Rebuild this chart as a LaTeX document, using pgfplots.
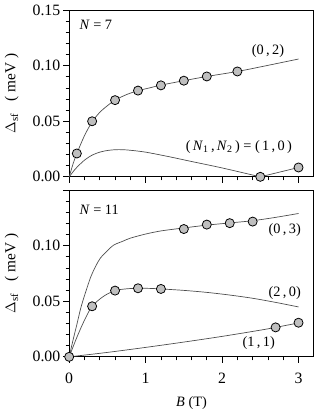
\documentclass[border=0pt]{standalone}
\usepackage{fontspec}
\setmainfont{Liberation Serif}
\usepackage{pgfplots}
\pgfplotsset{compat=1.18}
\pgfplotsset{panel/.style={
  scale only axis, width=248pt, height=169pt,
  xmin=0, xmax=3.2, ymin=0, ymax=0.15,
  clip=false,
  axis line style={line width=0.8pt},
  tick align=outside, xtick pos=bottom, ytick pos=left,
  major tick length=6pt, minor tick length=3.5pt,
  every tick/.style={black, line width=0.7pt},
  xtick={0,1,2,3}, minor xtick={0.2,0.4,0.6,0.8,1.2,1.4,1.6,1.8,2.2,2.4,2.6,2.8},
  ytick={0,0.05,0.1,0.15}, minor y tick num=4,
  /pgf/number format/assume math mode=true,
  tick label style={font=\fontsize{16}{18}\selectfont},
  xticklabel style={yshift=-5pt},
  yticklabel style={xshift=2pt},
  every node/.append style={font=\fontsize{14.5}{17}\selectfont},
  ylabel style={at={(axis description cs:-0.235,0.5)}, anchor=center, font=\fontsize{15.5}{18}\selectfont},
  curve/.style={black!70, line width=0.7pt, smooth, no markers},
  pts/.style={only marks, mark=*, mark size=4.6pt, mark options={fill=gray!50, draw=black, line width=0.8pt}},
}}
\begin{document}
\fontsize{14.5}{17}\selectfont
\begin{tikzpicture}
\path (0,0) rectangle (319pt,418pt);
% top panel N=7
\begin{axis}[panel, at={(67pt,244.5pt)}, anchor=south west,
  xticklabels={}, yticklabels={0.00,0.05,0.10,0.15},
  ylabel={$\Delta$\textsubscript{sf}\hspace{0.8em}( meV )}]
\addplot[curve] coordinates {(0,0) (0.05,0.0115) (0.1,0.021) (0.2,0.037) (0.3,0.0495) (0.4,0.058) (0.5,0.064) (0.6,0.069) (0.75,0.074) (0.9,0.0775) (1.05,0.080) (1.2,0.0825) (1.5,0.0865) (1.8,0.0903) (2.2,0.0948) (2.6,0.1003) (3.0,0.106)};
\addplot[curve] coordinates {(0,0) (0.05,0.0045) (0.1,0.0085) (0.2,0.0150) (0.3,0.0195) (0.4,0.0222) (0.5,0.0237) (0.6,0.0244) (0.7,0.0244) (0.8,0.0239) (1.0,0.0222) (1.3,0.0182) (1.6,0.0138) (2.0,0.0080) (2.5,0.0)};
\addplot[curve] coordinates {(2.5,0) (3.0,0.0084)};
\addplot[pts] coordinates {(0.1,0.021) (0.3,0.050) (0.6,0.069) (0.9,0.0776) (1.2,0.0823) (1.5,0.0865) (1.8,0.0903) (2.2,0.0948)};
\addplot[pts] coordinates {(2.5,0.0) (3.0,0.0084)};
\node[anchor=west, inner sep=0] at (axis cs:0.133,0.137) {\textit{N} = 7};
\node[inner sep=0] at (axis cs:2.60,0.1131) {(0\,,\,2)};
\node[inner sep=0] at (axis cs:2.22,0.027) {(\,\textit{N}\textsubscript{1}\,,\,\textit{N}\textsubscript{2}\,) = (\,1\,,\,0\,)};
\end{axis}
% bottom panel N=11
\begin{axis}[panel, at={(67pt,62pt)}, anchor=south west,
  yticklabels={0.00,0.05,0.10,{}},
  ylabel={$\Delta$\textsubscript{sf}\hspace{0.8em}( meV )},
  xlabel={\textit{B} (T)},
  xlabel style={at={(axis description cs:0.5,-0.276)}, anchor=center}]
\addplot[curve] coordinates {(0,0) (0.05,0.015) (0.1,0.029) (0.15,0.0435) (0.2,0.055) (0.28,0.0715) (0.35,0.082) (0.41,0.089) (0.5,0.0955) (0.58,0.1005) (0.7,0.104) (0.8,0.1068) (1.0,0.1105) (1.2,0.1133) (1.5,0.116) (1.8,0.1185) (2.1,0.1205) (2.4,0.1225) (2.7,0.1255) (3.0,0.129)};
\addplot[curve] coordinates {(0,0) (0.1,0.0175) (0.2,0.033) (0.3,0.0455) (0.45,0.0545) (0.6,0.0596) (0.75,0.0612) (0.9,0.0617) (1.05,0.0616) (1.2,0.0611) (1.5,0.0598) (1.8,0.058) (2.1,0.0556) (2.4,0.0527) (2.7,0.049) (3.0,0.0449)};
\addplot[curve] coordinates {(0,0) (0.5,0.0040) (1.0,0.0085) (1.5,0.0133) (2.0,0.0184) (2.5,0.0240) (2.7,0.0265) (3.0,0.0305)};
\addplot[pts] coordinates {(1.5,0.1150) (1.8,0.1190) (2.1,0.1203) (2.4,0.1217)};
\addplot[pts] coordinates {(0,0) (0.3,0.0455) (0.6,0.0596) (0.9,0.0617) (1.2,0.0611)};
\addplot[pts] coordinates {(2.7,0.0265) (3.0,0.0307)};
\node[anchor=west, inner sep=0] at (axis cs:0.133,0.1325) {\textit{N} = 11};
\node[inner sep=0] at (axis cs:2.82,0.1142) {(0\,,\,3)};
\node[inner sep=0] at (axis cs:2.82,0.0575) {(2\,,\,0)};
\node[inner sep=0] at (axis cs:2.48,0.0124) {(1\,,\,1)};
\end{axis}
\end{tikzpicture}
\end{document}
